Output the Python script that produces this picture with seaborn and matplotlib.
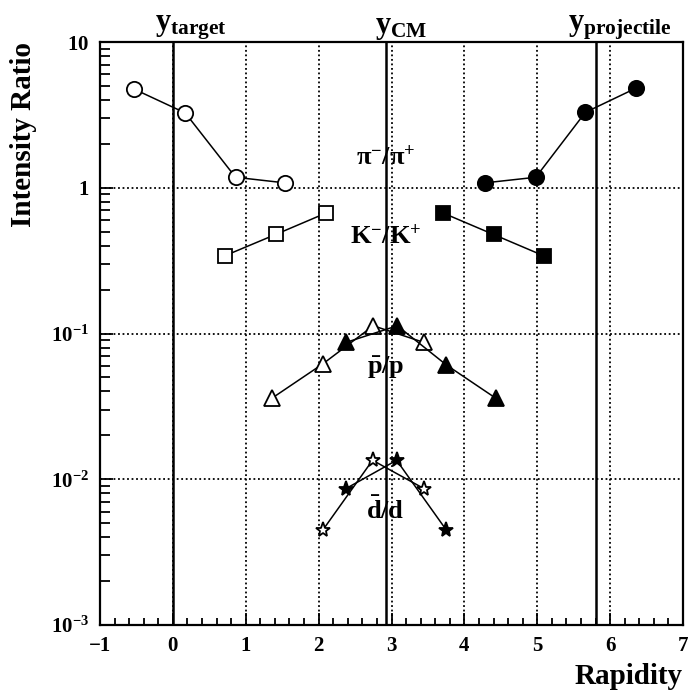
import matplotlib
matplotlib.use("Agg")
import matplotlib.pyplot as plt
import matplotlib.transforms as mtransforms
from matplotlib.ticker import FixedLocator, MultipleLocator, NullFormatter, FixedFormatter
import seaborn as sns

# ---- data -------------------------------------------------------------
# pi-/pi+ ratio: open = measured, filled = reflected about y_CM
pi_open_x = [-0.54, 0.17, 0.86, 1.54]
pi_open_y = [4.77, 3.26, 1.18, 1.08]
pi_fill_x = [4.28, 4.98, 5.66, 6.35]
pi_fill_y = [1.08, 1.18, 3.29, 4.81]

# K-/K+ ratio
k_open_x = [0.71, 1.41, 2.10]
k_open_y = [0.341, 0.478, 0.67]
k_fill_x = [3.71, 4.40, 5.09]
k_fill_y = [0.67, 0.478, 0.341]

# pbar/p ratio
p_open_x = [1.36, 2.06, 2.75, 3.44]
p_open_y = [0.036, 0.062, 0.113, 0.087]
p_fill_x = [2.38, 3.08, 3.75, 4.43]
p_fill_y = [0.087, 0.113, 0.061, 0.036]

# dbar/d ratio
d_open_x = [2.06, 2.74, 3.45]
d_open_y = [0.0045, 0.0135, 0.0086]
d_fill_x = [2.37, 3.07, 3.75]
d_fill_y = [0.0086, 0.0135, 0.0045]

# reference rapidities
y_target = 0.0
y_cm = 2.92
y_projectile = 5.8

x_ticks = [-1, 0, 1, 2, 3, 4, 5, 6, 7]
y_ticks = [1e-3, 1e-2, 1e-1, 1, 10]
y_tick_labels = [r"$10^{-3}$", r"$10^{-2}$", r"$10^{-1}$", r"$1$", r"$10$"]
y_minor = [m * 10.0 ** e for e in range(-3, 1) for m in range(2, 10)]

# ---- style ------------------------------------------------------------
sns.set_style("white")
plt.rcParams.update({
    "font.family": ["Liberation Serif", "DejaVu Serif"],
    "font.weight": "bold",
    "mathtext.fontset": "custom",
    "mathtext.rm": "Liberation Serif:bold",
    "mathtext.it": "Liberation Serif:bold:italic",
    "mathtext.bf": "Liberation Serif:bold",
    "mathtext.default": "rm",
    "axes.linewidth": 1.6,
    "axes.edgecolor": "black",
    "text.color": "black",
    "axes.labelcolor": "black",
    "xtick.color": "black",
    "ytick.color": "black",
})

fig = plt.figure(figsize=(6.9, 6.97), dpi=100)
ax = fig.add_axes([100 / 690, 72 / 697, 583 / 690, 583 / 697])
ax.set_yscale("log")

series = [
    (pi_open_x, pi_open_y, "o", "white", 11),
    (pi_fill_x, pi_fill_y, "o", "black", 11),
    (k_open_x, k_open_y, "s", "white", 10),
    (k_fill_x, k_fill_y, "s", "black", 10),
    (p_open_x, p_open_y, "^", "white", 11),
    (p_fill_x, p_fill_y, "^", "black", 11),
    (d_open_x, d_open_y, "*", "white", 11),
    (d_fill_x, d_fill_y, "*", "black", 11),
]
for xs, ys, mk, fc, ms in series:
    sns.lineplot(x=xs, y=ys, ax=ax, color="black", lw=1.1, marker=mk,
                 ms=ms, mfc=fc, mec="black", mew=1.3, estimator=None,
                 sort=False, legend=False, zorder=5)

# reference rapidity lines
for xv in (y_target, y_cm, y_projectile):
    ax.axvline(xv, color="black", lw=1.8, zorder=3)

ax.set_xlim(-1, 7)
ax.set_ylim(1e-3, 10)

ax.xaxis.set_major_locator(FixedLocator(x_ticks))
ax.xaxis.set_minor_locator(MultipleLocator(0.2))
ax.yaxis.set_major_locator(FixedLocator(y_ticks))
ax.yaxis.set_major_formatter(FixedFormatter(y_tick_labels))
ax.yaxis.set_minor_locator(FixedLocator(y_minor))
ax.yaxis.set_minor_formatter(NullFormatter())

ax.grid(which="major", color="black", linestyle=(0, (1, 1.5)), lw=1.3)
ax.tick_params(which="both", direction="in", top=False, right=False,
               bottom=True, left=True, color="black", width=1.3)
ax.tick_params(which="major", length=9, labelsize=15, pad=8)
ax.tick_params(which="minor", length=5)
ax.tick_params(axis="y", which="minor", length=7)
for lab in ax.get_xticklabels() + ax.get_yticklabels():
    lab.set_fontweight("bold")

# axis titles
fig.text(24 / 690, 1 - 42 / 697, "Intensity Ratio", rotation=90,
         ha="center", va="top", fontsize=21, fontweight="bold")
fig.text(683 / 690, 1 - 677 / 697, "Rapidity", ha="right", va="center",
         fontsize=21, fontweight="bold")

# labels of the reference rapidities above the frame
top = mtransforms.blended_transform_factory(ax.transData, ax.transAxes)
for xv, txt in ((-0.25, r"$\mathrm{y}_{\mathrm{target}}$"),
                (2.78, r"$\mathrm{y}_{\mathrm{CM}}$"),
                (5.42, r"$\mathrm{y}_{\mathrm{projectile}}$")):
    ax.text(xv, 1.0, txt, transform=top, ha="left", va="bottom",
            fontsize=22, fontweight="bold")

# ratio names along the mid-rapidity line
for yv, txt in ((1.61, r"$\pi^{-}/\pi^{+}$"),
                (0.46, r"$K^{-}/K^{+}$"),
                (0.058, r"$\bar{p}/p$"),
                (0.0061, r"$\bar{d}/d$")):
    ax.text(y_cm, yv, txt, ha="center", va="center", fontsize=19,
            fontweight="bold", zorder=6)

fig.savefig("out.png", dpi=100)
